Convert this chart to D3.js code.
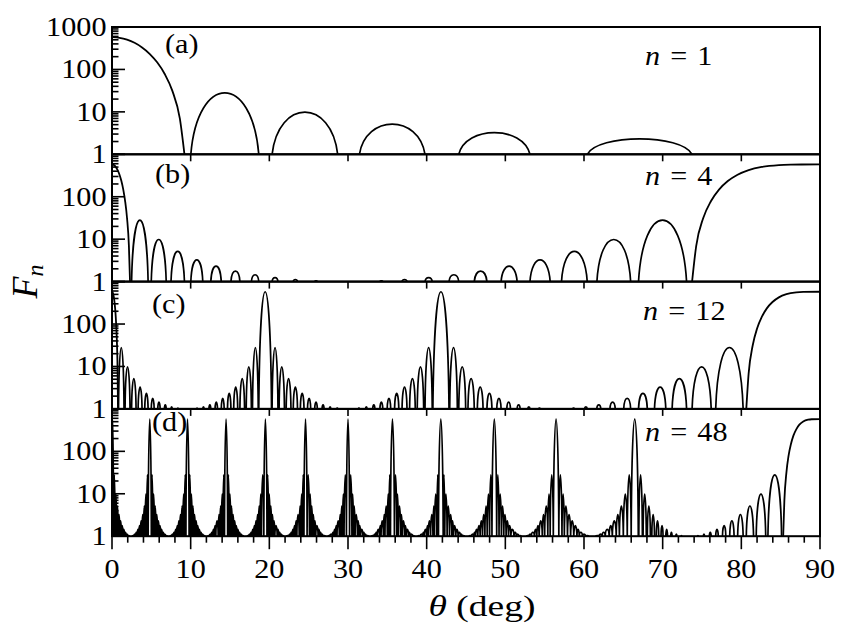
<!DOCTYPE html>
<html><head><meta charset="utf-8">
<script src="https://cdn.jsdelivr.net/npm/d3@7"></script>
<style>
body{margin:0;background:#fff}
svg{display:block}
svg text{font-family:"Liberation Serif","DejaVu Serif",serif;}
</style>
</head><body><svg id="chart" width="846" height="638"></svg>
<script>
// ---------------- data ----------------
const thetaTickValues = [0, 10, 20, 30, 40, 50, 60, 70, 80, 90];
const yTickLabels = ["1", "10", "100", "1000"];
const panelLabels = ["(a)", "(b)", "(c)", "(d)"];
const nLabels = ["1", "4", "12", "48"];
const mainPeak = 576;
// side-lobe peak heights between two main peaks (same pattern in every panel)
const sideProfile = [28, 9.83, 5.15, 3.25, 2.31, 1.77, 1.45, 1.24, 1.12, 1.04, 1.0, 1.0, 1.04, 1.12, 1.24, 1.45, 1.77, 2.31, 3.25, 5.15, 9.83, 28];

// (a) n = 1 : main lobe samples [theta, F] and side lobes [start, end, peak F]
const mainA0 = [[0,576],[0.955,557],[1.91,504],[2.866,425],[3.823,330],[4.78,234],[5.739,147],[6.70,78.2],[7.662,31.6],[8.627,6.9],[9.21,1]];
const lobesA = [[10.02,18.66,28],[20.35,28.69,9.83],[31.45,39.79,5.15],[44.08,53.13,3.25],[60.41,73.74,2.31]];

// (b) n = 4
const mainB0 = [[0,576],[0.239,557],[0.477,504],[0.716,425],[0.955,330],[1.194,234],[1.433,147],[1.671,78.2],[1.91,31.6],[2.149,6.9],[2.29,1]];
const lobesB = [[2.49,4.59,28],[4.99,6.89,9.83],[7.50,9.21,5.15],[10.02,11.54,3.25],[12.56,13.89,2.31],[15.12,16.26,1.77],[17.72,18.66,1.45],[20.35,21.10,1.24],[23.04,23.58,1.12],[25.77,26.10,1.04],[28.57,28.69,1.0],[31.33,31.45,1.0],[34.06,34.42,1.04],[36.87,37.50,1.12],[39.79,40.71,1.24],[42.84,44.08,1.45],[46.05,47.66,1.77],[49.46,51.50,2.31],[53.13,55.70,3.25],[57.14,60.41,5.15],[61.64,65.93,9.83],[66.93,73.04,28]];
const mainB90 = [[73.74,1],[74.26,6.9],[75.16,31.6],[76.13,78.2],[77.16,147],[78.28,234],[79.52,330],[80.93,425],[82.60,504],[84.77,557],[86.30,571],[87.66,575],[90,576]];

// (c) n = 12
const mainC0 = [[0,576],[0.080,557],[0.159,504],[0.239,425],[0.318,330],[0.398,234],[0.477,147],[0.557,78.2],[0.637,31.6],[0.716,6.9],[0.76,1]];
const lobesC = [[0.83,1.53,28],[1.66,2.29,9.83],[2.49,3.06,5.15],[3.32,3.82,3.25],[4.16,4.59,2.31],[4.99,5.36,1.77],[5.82,6.12,1.45],[6.66,6.89,1.24],[7.50,7.66,1.12],[8.33,8.43,1.04],[9.17,9.21,1.0],[9.98,10.02,1.0],[10.76,10.86,1.04],[11.54,11.71,1.12],[12.32,12.56,1.24],[13.10,13.41,1.45],[13.89,14.26,1.77],[14.68,15.12,2.31],[15.47,15.98,3.25],[16.26,16.85,5.15],[17.06,17.72,9.83],[17.86,18.59,28],
  [18.66,20.28,576],
  [20.35,21.10,28],[21.24,21.92,9.83],[22.14,22.75,5.15],[23.04,23.58,3.25],[23.94,24.41,2.31],[24.85,25.26,1.77],[25.77,26.10,1.45],[26.70,26.96,1.24],[27.63,27.82,1.12],[28.57,28.69,1.04],[29.52,29.56,1.0],[30.44,30.48,1.0],[31.33,31.45,1.04],[32.23,32.43,1.12],[33.14,33.42,1.24],[34.06,34.42,1.45],[34.98,35.43,1.77],[35.92,36.46,2.31],[36.87,37.50,3.25],[37.83,38.55,5.15],[38.80,39.62,9.83],[39.79,40.71,28],
  [40.79,42.84,576],
  [42.93,43.90,28],[44.08,44.96,9.83],[45.25,46.05,5.15],[46.44,47.17,3.25],[47.66,48.30,2.31],[48.91,49.46,1.77],[50.19,50.65,1.45],[51.50,51.88,1.24],[52.85,53.13,1.12],[54.25,54.42,1.04],[55.70,55.76,1.0],[57.14,57.20,1.0],[58.58,58.77,1.04],[60.07,60.41,1.12],[61.62,62.14,1.24],[63.30,63.97,1.45],[65.05,65.93,1.77],[66.93,68.05,2.31],[68.96,70.40,3.25],[71.20,73.04,5.15],[73.74,76.17,9.83],[76.74,80.23,28]];
const mainC90 = [[80.63,1],[80.93,6.9],[81.45,31.6],[82.00,78.2],[82.60,147],[83.24,234],[83.96,330],[84.77,425],[85.73,504],[86.98,557],[87.87,571],[90,576]];

// (d) n = 48 : zeros of the dense fringe pattern (deg), up to 66.9
const mainD0 = [[0,576],[0.04,504],[0.08,330],[0.12,147],[0.16,31.6],[0.19,1]];
const zerosD = [0.0,0.2,0.4,0.6,0.8,1.0,1.2,1.4,1.6,1.8,2.0,2.2,2.4,2.6,2.8,3.0,3.2,3.4,3.6,3.8,4.0,4.2,4.4,4.6,4.8,
  5.0,5.2,5.4,5.6,5.8,6.0,6.2,6.4,6.6,6.8,7.0,7.2,7.4,7.6,7.8,8.0,8.2,8.4,8.6,8.8,9.0,9.2,9.4,9.6,
  9.8,10.0,10.2,10.4,10.6,10.8,11.0,11.2,11.4,11.6,11.8,12.0,12.2,12.4,12.6,12.8,13.0,13.2,13.5,13.7,13.9,14.1,14.3,14.5,
  14.7,14.9,15.1,15.3,15.5,15.7,15.9,16.1,16.3,16.5,16.7,17.0,17.2,17.4,17.6,17.8,18.0,18.2,18.4,18.6,18.8,19.0,19.3,19.5,
  19.7,19.9,20.1,20.3,20.5,20.7,21.0,21.2,21.4,21.6,21.8,22.0,22.2,22.5,22.7,22.9,23.1,23.3,23.5,23.8,24.0,24.2,24.4,24.6,
  24.8,25.1,25.3,25.5,25.7,25.9,26.2,26.4,26.6,26.8,27.1,27.3,27.5,27.7,28.0,28.2,28.4,28.6,28.9,29.1,29.3,29.5,29.8,30.0,
  30.2,30.5,30.7,30.9,31.2,31.4,31.6,31.9,32.1,32.3,32.6,32.8,33.0,33.3,33.5,33.7,34.0,34.2,34.5,34.7,35.0,35.2,35.4,35.7,
  35.9,36.2,36.4,36.7,36.9,37.2,37.4,37.7,37.9,38.2,38.4,38.7,38.9,39.2,39.5,39.7,40.0,40.2,40.5,40.8,41.0,41.3,41.5,41.8,
  42.1,42.3,42.6,42.9,43.2,43.4,43.7,44.0,44.3,44.5,44.8,45.1,45.4,45.7,46.0,46.2,46.5,46.8,47.1,47.4,47.7,48.0,48.3,48.6,
  48.9,49.2,49.5,49.8,50.1,50.4,50.7,51.1,51.4,51.7,52.0,52.3,52.7,53.0,53.3,53.7,54.0,54.3,54.7,55.0,55.4,55.7,56.1,56.4,
  56.8,57.2,57.5,57.9,58.3,58.7,59.1,59.4,59.8,60.2,60.6,61.0,61.5,61.9,62.3,62.7,63.2,63.6,64.1,64.5,65.0,65.5,66.0,66.4,
  66.9];
const lobesD90 = [[66.97,67.42,28],[67.51,67.92,9.83],[68.05,68.44,5.15],[68.62,68.96,3.25],[69.19,69.50,2.31],[69.79,70.05,1.77],[70.40,70.62,1.45],[71.02,71.20,1.24],[71.67,71.81,1.12],[72.34,72.43,1.04],[73.04,73.07,1.0],[73.74,73.77,1.0],[74.44,74.53,1.04],[75.17,75.33,1.12],[75.93,76.17,1.24],[76.74,77.07,1.45],[77.60,78.03,1.77],[78.52,79.08,2.31],[79.53,80.23,3.25],[80.63,81.55,5.15],[81.89,83.10,9.83],[83.38,85.12,28]];
const mainD90 = [[85.32,1],[85.47,6.9],[85.73,31.6],[86.00,78.2],[86.30,147],[86.62,234],[86.98,330],[87.38,425],[87.87,504],[88.49,557],[88.93,571],[90,576]];

// ---------------- build lobe lists for panel (d) from its zeros ----------------
const period = sideProfile.length + 2;            // zeros between two main peaks
const lobesD = [];
for (let h = 1; h < zerosD.length - 1; h++) {
  const r = h % period;
  if (r === 0) lobesD.push([zerosD[h - 1], zerosD[h + 1], mainPeak]);
  else if (r <= sideProfile.length) lobesD.push([zerosD[h], zerosD[h + 1], sideProfile[r - 1]]);
}

const panels = [
  { mains: [mainA0], lobes: lobesA, label: panelLabels[0], n: nLabels[0] },
  { mains: [mainB0, mainB90], lobes: lobesB, label: panelLabels[1], n: nLabels[1] },
  { mains: [mainC0, mainC90], lobes: lobesC, label: panelLabels[2], n: nLabels[2] },
  { mains: [mainD0, mainD90], lobes: lobesD.concat(lobesD90), label: panelLabels[3], n: nLabels[3] }
];

// ---------------- layout ----------------
const L = 112, R = 820, T0 = 27, PH = 127.3;
const SX = 1.12; // horizontal stretch of the glyphs
const labelPos = [[165, 53], [155, 183], [152, 313], [152, 431]];
const nPos = [[645, 65], [645, 185], [643, 320], [645, 441]];

const svg = d3.select("#chart");
const defs = svg.append("defs");
const x = d3.scaleLinear().domain([0, 90]).range([L, R]);

function sText(parent, px, py, anchor, size, parts, sx) {
  const t = parent.append("text")
    .attr("transform", `translate(${px},${py}) scale(${sx || SX},1)`)
    .attr("text-anchor", anchor)
    .style("font-size", size + "px")
    .attr("fill", "#000");
  parts.forEach(p => {
    const ts = t.append("tspan").text(p.t);
    if (p.i) ts.style("font-style", "italic");
    if (p.dx) ts.attr("dx", p.dx);
  });
  return t;
}

panels.forEach((p, i) => {
  const y0 = T0 + i * PH, y1 = y0 + PH;
  const y = d3.scaleLog().domain([1, 1000]).range([y1, y0]).clamp(true);
  const g = svg.append("g");
  defs.append("clipPath").attr("id", "clip" + i)
    .append("rect").attr("x", L).attr("y", y0 - 1).attr("width", R - L).attr("height", PH + 1);
  const cg = g.append("g").attr("clip-path", `url(#clip${i})`);

  const line = d3.line().x(d => x(d[0])).y(d => y(d[1])).curve(d3.curveMonotoneX);
  p.mains.forEach(m => cg.append("path").attr("d", line(m))
    .attr("fill", "none").attr("stroke", "#000").attr("stroke-width", 1.8));

  const pathStr = p.lobes.filter(l => l[2] > 1.001).map(l => {
    const a = x(l[0]), b = x(l[1]), yb = y(1), yp = y(l[2]);
    const w = b - a, yc = yb - (yb - yp) * 4 / 3;
    const pt = d3.path();
    pt.moveTo(a, yb);
    pt.bezierCurveTo(a + 0.1 * w, yc, b - 0.1 * w, yc, b, yb);
    return pt.toString();
  }).join("");
  cg.append("path").attr("d", pathStr).attr("fill", "none")
    .attr("stroke", "#000").attr("stroke-width", 1.7).attr("stroke-linejoin", "round");

  // frame
  g.append("rect").attr("x", L).attr("y", y0).attr("width", R - L).attr("height", PH)
    .attr("fill", "none").attr("stroke", "#000").attr("stroke-width", 2);

  // y ticks (inward, left)
  y.ticks().forEach(t => {
    const lg = Math.log10(t);
    const major = Math.abs(lg - Math.round(lg)) < 1e-9;
    g.append("line").attr("x1", L).attr("x2", L + (major ? 13 : 6.5))
      .attr("y1", y(t)).attr("y2", y(t)).attr("stroke", "#000").attr("stroke-width", 1.6);
  });
  // y tick labels
  const labs = i === 0 ? yTickLabels : yTickLabels.slice(0, 3);
  labs.forEach(s => sText(g, 106.5, y(+s) + 9, "end", 27, [{ t: s }]));

  // x ticks (outward, bottom)
  const last = i === panels.length - 1;
  x.ticks(10).forEach(t => g.append("line").attr("x1", x(t)).attr("x2", x(t))
    .attr("y1", y1).attr("y2", y1 + (last ? 13 : 7)).attr("stroke", "#000").attr("stroke-width", 1.6));
  if (last) {
    x.ticks(45).filter(t => t % 10 !== 0).forEach(t => g.append("line").attr("x1", x(t)).attr("x2", x(t))
      .attr("y1", y1).attr("y2", y1 + 6.5).attr("stroke", "#000").attr("stroke-width", 1.6));
    thetaTickValues.forEach(t => sText(g, x(t), 578, "middle", 27, [{ t: String(t) }]));
  }

  // panel letter and n label
  sText(g, labelPos[i][0], labelPos[i][1], "start", 27, [{ t: p.label }]);
  sText(g, nPos[i][0], nPos[i][1], "start", 27, [{ t: "n", i: true }, { t: "=", dx: 9 }, { t: p.n, dx: 9 }]);
});

// axis titles
sText(svg, 482, 616, "middle", 30, [{ t: "θ", i: true }, { t: " (deg)" }], 1.25);
const yl = svg.append("text")
  .attr("transform", "translate(37,281.5) rotate(-90)")
  .attr("text-anchor", "middle").attr("fill", "#000");
yl.append("tspan").text("F").style("font-style", "italic").style("font-size", "36px");
yl.append("tspan").text("n").style("font-style", "italic").style("font-size", "24px").attr("dy", 6);
</script></body></html>
